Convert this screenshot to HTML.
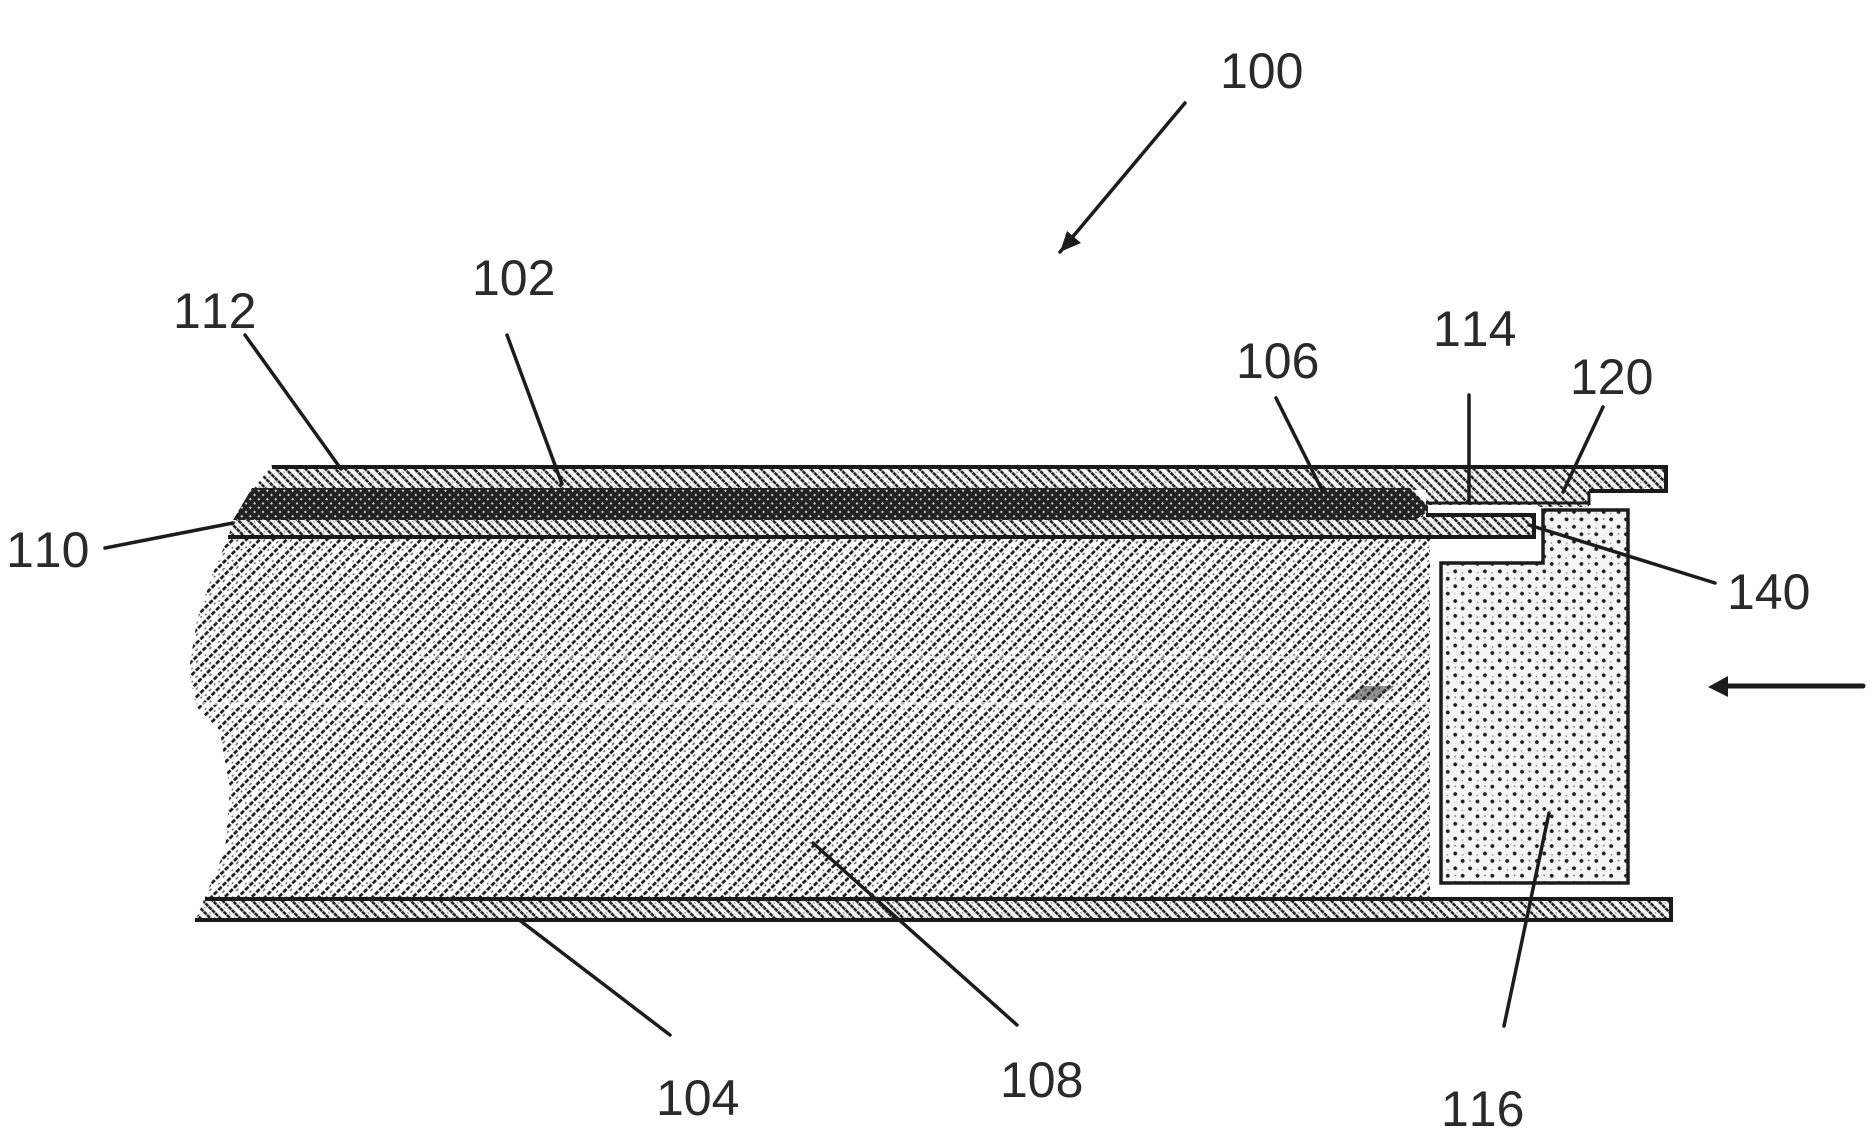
<!DOCTYPE html>
<html><head><meta charset="utf-8"><style>
html,body{margin:0;padding:0;background:#fff}
svg{display:block}
text{font-family:"Liberation Sans",sans-serif;font-size:50px;fill:#2a2a2a;font-kerning:none}
</style></head><body>
<svg width="1876" height="1133" viewBox="0 0 1876 1133" xmlns="http://www.w3.org/2000/svg">
<defs>
<pattern id="m" width="19" height="19" patternUnits="userSpaceOnUse" patternTransform="rotate(-45)">
<rect width="19" height="19" fill="#fff"/>
<path d="M0 4.75H19M0 14.25H19" stroke="#1c1c1c" stroke-width="2.8" stroke-dasharray="4.6 1.73"/>
<path d="M1 9.5h3M9 8.5h2M14 10h2M4 0.5h2M12 18h3" stroke="#666" stroke-width="1.4"/>
</pattern>
<pattern id="p" width="14" height="14" patternUnits="userSpaceOnUse" patternTransform="rotate(45)">
<rect width="14" height="14" fill="#f8f8f8"/>
<path d="M0 3.5H14M0 10.5H14" stroke="#1c1c1c" stroke-width="2.5" stroke-dasharray="4 .67"/>
<path d="M2 7h2M9 7h2" stroke="#888" stroke-width="1"/>
</pattern>
<pattern id="d" width="6" height="6" patternUnits="userSpaceOnUse" patternTransform="rotate(45)">
<rect width="6" height="6" fill="#222"/>
<rect x="1" y="1" width="2" height="2" fill="#ccc"/>
</pattern>
<pattern id="s" width="21" height="21" patternUnits="userSpaceOnUse" patternTransform="rotate(45)">
<rect width="21" height="21" fill="#f5f5f5"/>
<circle cx="5" cy="5" r="1.9" fill="#1c1c1c"/><circle cx="15.5" cy="5" r="1.9" fill="#1c1c1c"/>
<circle cx="5" cy="15.5" r="1.9" fill="#1c1c1c"/><circle cx="15.5" cy="15.5" r="1.9" fill="#1c1c1c"/>
<circle cx="10" cy="10" r=".9" fill="#777"/><circle cx="1" cy="11" r=".8" fill="#888"/><circle cx="11" cy="1" r=".8" fill="#888"/>
</pattern>
</defs>

<!-- main body 108 -->
<path d="M228 538 L1430 538 L1430 897 L205 897 L225 850 L230 790 L220 732 L196 706 L189 670 L197 620 L214 570 Z" fill="url(#m)"/>
<rect x="190" y="702" width="1240" height="3" fill="#fff" opacity=".65"/>
<rect x="420" y="656" width="1000" height="3" fill="#fff" opacity=".5"/>
<path d="M1345 700l18-14h32l-20 14z" fill="#333" opacity=".55"/>

<!-- top plate 112 -->
<path d="M272 465H1666V493H1589V507H1426V490H253Z" fill="url(#p)"/>
<path d="M272 467H1666V491H1589" fill="none" stroke="#1a1a1a" stroke-width="4"/>
<path d="M1589 491v14M1426 503H1589" fill="none" stroke="#1a1a1a" stroke-width="3"/>
<rect x="1426" y="505" width="107" height="8" fill="#fff"/>

<!-- dark layer -->
<path d="M252 488H1410L1428 506V513L1415 520H233Z" fill="url(#d)"/>

<!-- thin plate -->
<path d="M233 520H1415L1426 513H1534V538H228Z" fill="url(#p)"/>
<path d="M1426 515H1534V537H228" fill="none" stroke="#1a1a1a" stroke-width="4"/>

<!-- component 116 -->
<path d="M1543 510H1628V883H1441V563H1543Z" fill="url(#s)" stroke="#1c1c1c" stroke-width="3.5"/>

<!-- bottom plate 104 -->
<path d="M205 897H1673V922H195Z" fill="url(#p)"/>
<path d="M205 899H1671V920H195" fill="none" stroke="#1a1a1a" stroke-width="4"/>

<!-- leaders -->
<g stroke="#1c1c1c" stroke-width="3.5" fill="none" stroke-linecap="round">
<path d="M1185 103L1060 252"/>
<path d="M245 335L341 469"/>
<path d="M507 335L562 484"/>
<path d="M1276 398L1322 490"/>
<path d="M1469 395V503"/>
<path d="M1603 407L1563 492"/>
<path d="M105 548L233 523"/>
<path d="M1529 525L1715 583"/>
<path d="M1715 686H1863" stroke-width="5"/>
<path d="M518 919L670 1035"/>
<path d="M813 843L1017 1025"/>
<path d="M1549 813L1504 1026"/>
</g>
<path d="M1060 252l7-21 14 12z" fill="#1c1c1c"/>
<path d="M1708 687l20-11v21z" fill="#1c1c1c"/>

<!-- labels -->
<text x="1220" y="88">100</text>
<text x="472" y="295">102</text>
<text x="173" y="328">112</text>
<text x="1236" y="378">106</text>
<text x="1433" y="346">114</text>
<text x="1570" y="394">120</text>
<text x="6" y="567">110</text>
<text x="1727" y="609">140</text>
<text x="656" y="1115">104</text>
<text x="1000" y="1097">108</text>
<text x="1441" y="1126">116</text>
</svg>
</body></html>
